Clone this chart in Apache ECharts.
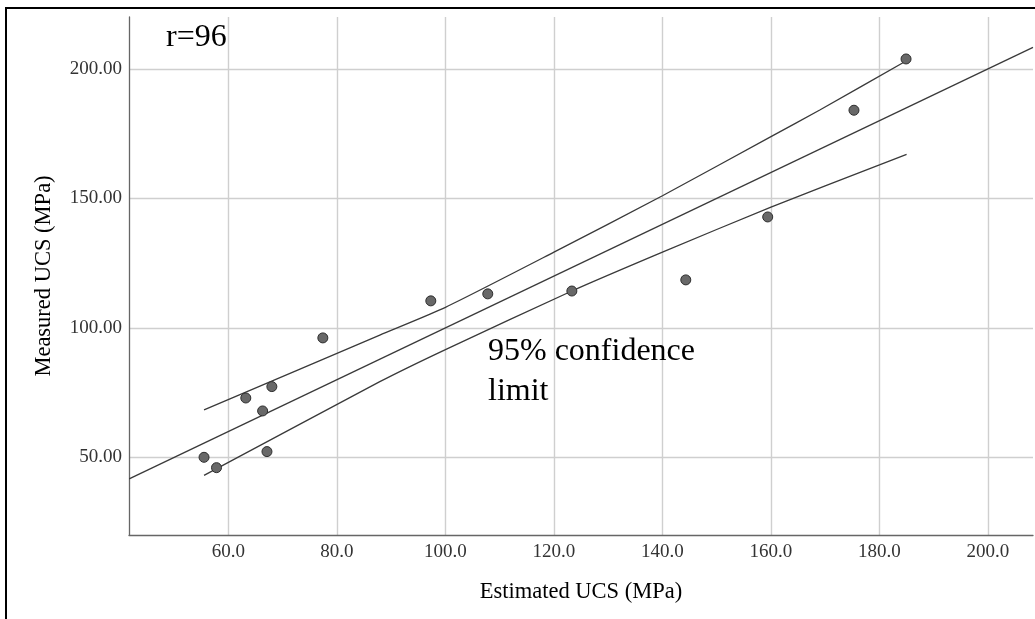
<!DOCTYPE html>
<html>
<head>
<meta charset="utf-8">
<script src="https://cdn.jsdelivr.net/npm/echarts@6/dist/echarts.min.js"></script>
<style>
  html, body { margin: 0; padding: 0; background: #fff; }
  #chart { width: 1035px; height: 619px; }
</style>
</head>
<body>
<div id="chart"></div>
<script>
// observed values
var estimated = [55.5, 57.8, 67.1, 66.3, 63.2, 68.0, 77.4, 97.3, 107.8, 123.3, 144.3, 159.4, 175.3, 184.9];
var measured  = [50.0, 46.0, 52.2, 67.9, 72.9, 77.3, 96.1, 110.4, 113.1, 114.2, 118.5, 142.8, 184.0, 203.8];

// fit line and 95% confidence limits
var fitX = [41.7, 208.3];
var fitY = [41.7, 208.3];
var upperX = [55.5, 87.9, 100, 120, 140, 160, 169, 184.9];
var upperY = [68.3, 97.2, 107.9, 129.2, 151.0, 173.8, 184.1, 203.0];
var lowerX = [55.5, 87.9, 100, 123.3, 140, 160, 180, 185.0];
var lowerY = [43.0, 79.2, 91.6, 114.2, 129.2, 146.6, 162.9, 167.0];

var xTicks = [60, 80, 100, 120, 140, 160, 180, 200];
var yTicks = [50, 100, 150, 200];

function pairs(xs, ys) {
  return xs.map(function (x, i) { return [x, ys[i]]; });
}

var chartDom = document.getElementById('chart');
var myChart = echarts.init(chartDom);
var serif = 'Liberation Serif';
var lineColor = '#3a3a3a';

var option = {
  animation: false,
  backgroundColor: '#fff',
  grid: { left: 129, top: 17, right: 2, bottom: 84 },
  xAxis: {
    type: 'value',
    min: 41.67,
    max: 208.3,
    name: 'Estimated UCS (MPa)',
    nameLocation: 'middle',
    nameGap: 46,
    nameTextStyle: { fontFamily: serif, fontSize: 22.5, color: '#000' },
    axisLine: { show: true, lineStyle: { color: '#666', width: 1.3 } },
    axisTick: { show: false, customValues: xTicks },
    axisLabel: {
      customValues: xTicks,
      fontFamily: serif, fontSize: 19, color: '#333', margin: 8,
      formatter: function (v) { return v.toFixed(1); }
    },
    splitLine: { show: true, lineStyle: { color: '#cfcfcf', width: 1.4 } }
  },
  yAxis: {
    type: 'value',
    min: 20,
    max: 220,
    name: 'Measured UCS (MPa)',
    nameLocation: 'middle',
    nameRotate: 90,
    nameGap: 73,
    nameTextStyle: { fontFamily: serif, fontSize: 22.5, color: '#000' },
    axisLine: { show: true, lineStyle: { color: '#666', width: 1.3 } },
    axisTick: { show: false, customValues: yTicks },
    axisLabel: {
      customValues: yTicks,
      fontFamily: serif, fontSize: 19, color: '#333', margin: 7,
      formatter: function (v) { return v.toFixed(2); }
    },
    splitLine: { show: true, lineStyle: { color: '#cfcfcf', width: 1.4 } }
  },
  graphic: [
    {
      type: 'rect', silent: true, z: 100,
      shape: { x: 6, y: 8, width: 1200, height: 800 },
      style: { fill: 'none', stroke: '#000', lineWidth: 2 }
    },
    {
      type: 'text', left: 166, top: 22, z: 100,
      style: { text: 'r=96', font: '32px "Liberation Serif"', fill: '#000' }
    },
    {
      type: 'text', left: 488, top: 332, z: 100,
      style: {
        text: '95% confidence\nlimit', font: '32px "Liberation Serif"',
        lineHeight: 40, fill: '#000'
      }
    }
  ],
  series: [
    {
      type: 'line', data: pairs(fitX, fitY), symbol: 'none', silent: true,
      lineStyle: { color: lineColor, width: 1.3 }, z: 3
    },
    {
      type: 'line', data: pairs(upperX, upperY), symbol: 'none', silent: true,
      smooth: 0.2, lineStyle: { color: lineColor, width: 1.3 }, z: 3
    },
    {
      type: 'line', data: pairs(lowerX, lowerY), symbol: 'none', silent: true,
      smooth: 0.2, lineStyle: { color: lineColor, width: 1.3 }, z: 3
    },
    {
      type: 'scatter', data: pairs(estimated, measured), symbolSize: 10,
      itemStyle: { color: '#686868', borderColor: '#2e2e2e', borderWidth: 1, opacity: 1 },
      z: 4
    }
  ]
};

option && myChart.setOption(option);
</script>
</body>
</html>
